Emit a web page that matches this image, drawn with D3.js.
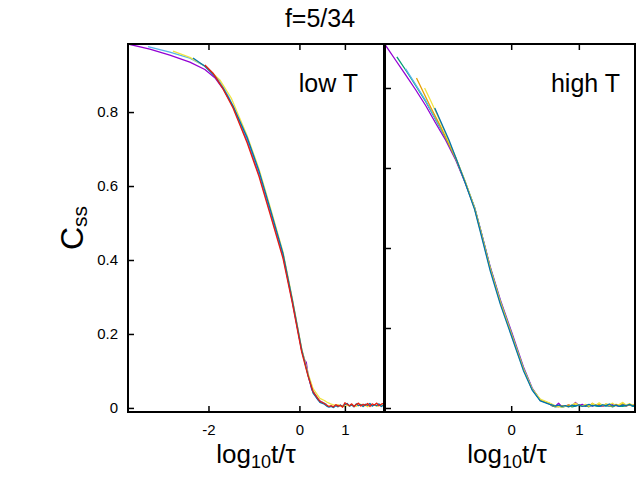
<!DOCTYPE html>
<html>
<head>
<meta charset="utf-8">
<script src="https://cdn.jsdelivr.net/npm/d3@7"></script>
<style>
  body { margin: 0; background: #fff; }
  svg { display: block; font-family: "Liberation Sans", Arial, sans-serif; }
</style>
</head>
<body>
<div id="chart"></div>
<script>
// tick values and labels
const leftXTicks = [-2, 0, 1];
const leftXLabels = ['-2', '0', '1'];
const rightXTicks = [0, 1];
const rightXLabels = ['0', '1'];
const yTicks = [0, 0.2, 0.4, 0.6, 0.8];
const yLabels = ['0', '0.2', '0.4', '0.6', '0.8'];

// gnuplot default palette
const colors = {
  purple: '#9400D3', green: '#009E73', sky: '#56B4E9', orange: '#E69F00',
  yellow: '#F0E442', blue: '#0072B2', red: '#E51E10'
};

// ---- low T panel: [log10 t/tau, Css]
const lowPurple = [[-3.77,0.984],[-3.29,0.970],[-2.85,0.954],[-2.41,0.935],[-2.08,0.915],[-1.86,0.893],[-1.68,0.863],[-1.46,0.815],[-1.15,0.722],[-0.89,0.632],[-0.65,0.532],[-0.36,0.410],[-0.16,0.290],[0.05,0.155],[0.12,0.128],[0.15,0.124],[0.19,0.090],[0.27,0.050],[0.41,0.022],[0.56,0.011]];
const lowSky = [[-3.33,0.977],[-2.85,0.962],[-2.41,0.946],[-2.04,0.922],[-1.75,0.884],[-1.55,0.840],[-1.15,0.727],[-0.89,0.638],[-0.65,0.538],[-0.36,0.415],[-0.16,0.294],[0.05,0.158],[0.19,0.090],[0.30,0.045],[0.45,0.018],[0.60,0.010]];
const lowYellow = [[-2.78,0.965],[-2.41,0.948],[-2.06,0.923],[-1.75,0.887],[-1.50,0.838],[-1.15,0.736],[-0.89,0.646],[-0.65,0.546],[-0.36,0.421],[-0.16,0.298],[0.05,0.160],[0.19,0.093],[0.30,0.052],[0.45,0.026]];
const lowBlue = [[-2.34,0.946],[-2.08,0.924],[-1.86,0.897],[-1.68,0.865],[-1.46,0.816],[-1.15,0.731],[-0.89,0.641],[-0.65,0.541],[-0.36,0.417],[-0.16,0.294],[0.05,0.157],[0.19,0.088],[0.30,0.040],[0.45,0.015]];
const lowRed = [[-2.08,0.927],[-1.90,0.905],[-1.70,0.867],[-1.46,0.811],[-1.15,0.717],[-0.89,0.626],[-0.65,0.526],[-0.36,0.404],[-0.16,0.286],[0.05,0.151],[0.19,0.086],[0.30,0.044],[0.45,0.018]];

// noisy plateau after decay
const lowTailX = [0.55,0.60,0.65,0.70,0.75,0.80,0.85,0.90,0.95,1.00,1.05,1.10,1.15,1.20,1.25,1.30,1.35,1.40,1.45,1.50,1.55,1.60,1.65,1.70,1.75,1.80,1.85];
const lowYellowTail = [0.020,0.016,0.013,0.010,0.008,0.006,0.009,0.004,0.007,0.003,0.008,0.005,0.009,0.006,0.004,0.008,0.010,0.005,0.007,0.003,0.009,0.006,0.008,0.004,0.007,0.009,0.005];
const lowBlueTail = [0.010,0.005,0.002,0.004,0.001,0.006,0.003,0.008,0.004,0.009,0.012,0.005,0.008,0.003,0.011,0.006,0.009,0.004,0.010,0.007,0.012,0.005,0.009,0.006,0.011,0.004,0.008];
const lowRedTail = [0.012,0.008,0.004,0.006,0.003,0.009,0.005,0.007,0.002,0.014,0.010,0.006,0.011,0.004,0.009,0.013,0.005,0.010,0.007,0.012,0.004,0.011,0.008,0.013,0.006,0.010,0.012];

// ---- high T panel
const highPurple = [[-1.87,0.910],[-1.71,0.870],[-1.56,0.833],[-1.41,0.795],[-1.26,0.755],[-1.12,0.713],[-0.97,0.670],[-0.82,0.620],[-0.68,0.563],[-0.54,0.500],[-0.44,0.438],[-0.31,0.353],[-0.16,0.270],[0.01,0.188],[0.18,0.103],[0.31,0.050],[0.43,0.020],[0.57,0.010]];
const highGreen = [[-1.69,0.878],[-1.56,0.845],[-1.41,0.806],[-1.26,0.765],[-1.12,0.722],[-0.97,0.676],[-0.82,0.624],[-0.68,0.565],[-0.54,0.500],[-0.44,0.436],[-0.31,0.350],[-0.16,0.266],[0.01,0.183],[0.18,0.099],[0.31,0.047],[0.43,0.019],[0.57,0.010]];
const highSky = [[-1.56,0.848],[-1.41,0.808],[-1.26,0.767],[-1.12,0.723],[-0.97,0.677],[-0.82,0.625],[-0.68,0.566],[-0.54,0.501],[-0.44,0.437],[-0.31,0.351],[-0.16,0.267],[0.01,0.184],[0.18,0.100],[0.31,0.048],[0.43,0.020],[0.60,0.010]];
const highOrange = [[-1.40,0.825],[-1.30,0.790],[-1.19,0.752],[-1.05,0.706],[-0.97,0.677],[-0.82,0.624],[-0.68,0.565],[-0.54,0.499],[-0.44,0.435],[-0.31,0.349],[-0.16,0.265],[0.01,0.182],[0.18,0.098],[0.31,0.047],[0.43,0.020],[0.57,0.011]];
const highYellow = [[-1.28,0.800],[-1.19,0.768],[-1.08,0.728],[-0.97,0.685],[-0.82,0.627],[-0.68,0.566],[-0.54,0.498],[-0.44,0.433],[-0.31,0.346],[-0.16,0.262],[0.01,0.179],[0.18,0.096],[0.31,0.047],[0.43,0.022],[0.57,0.012]];
const highBlue = [[-1.13,0.750],[-1.03,0.712],[-0.92,0.670],[-0.82,0.626],[-0.68,0.563],[-0.54,0.496],[-0.44,0.430],[-0.31,0.343],[-0.16,0.259],[0.01,0.177],[0.18,0.094],[0.31,0.045],[0.43,0.018],[0.57,0.009]];

const highTailX = [0.60,0.65,0.70,0.75,0.80,0.85,0.90,0.95,1.00,1.05,1.10,1.15,1.20,1.25,1.30,1.35,1.40,1.45,1.50,1.55,1.60,1.65,1.70,1.75,1.80,1.85];
const highPurpleTail = [0.006,0.004,0.012,0.003,0.005,0.007,0.004,0.014,0.006,0.009,0.004,0.007,0.005,0.008,0.006,0.004,0.007,0.005,0.009,0.006,0.004,0.007,0.005,0.008,0.006,0.005];
const highGreenTail = [0.006,0.003,0.005,0.002,0.004,0.006,0.003,0.005,0.007,0.004,0.006,0.003,0.008,0.005,0.004,0.007,0.005,0.006,0.003,0.007,0.005,0.004,0.006,0.008,0.004,0.006];
const highOrangeTail = [0.007,0.004,0.003,0.006,0.004,0.008,0.005,0.011,0.007,0.005,0.008,0.004,0.012,0.006,0.009,0.005,0.010,0.007,0.004,0.009,0.006,0.011,0.005,0.008,0.007,0.010];
const highYellowTail = [0.010,0.006,0.004,0.002,0.005,0.003,0.008,0.012,0.006,0.004,0.009,0.005,0.011,0.007,0.013,0.006,0.010,0.008,0.012,0.005,0.009,0.014,0.007,0.011,0.006,0.009];
const highBlueTail = [0.008,0.005,0.007,0.004,0.006,0.003,0.007,0.005,0.008,0.004,0.006,0.009,0.005,0.007,0.004,0.008,0.006,0.010,0.005,0.007,0.004,0.008,0.006,0.009,0.005,0.007];

//Attach a tail of y values to a curve
function withTail(body, tailX, tail) {
  if (!tail) return body;
  return body.concat(tailX.map((x, i) => [x, tail[i]]));
}

const panels = [
  {
    name: 'low T', x0: 128, x1: 384, xDomain: [-3.77, 1.86], yDomain: [-0.011, 0.984],
    xTicks: leftXTicks, xLabels: leftXLabels, yLabelsShown: true, labelX: 358,
    series: [
      { c: colors.purple, d: lowPurple },
      { c: colors.sky, d: lowSky },
      { c: colors.yellow, d: withTail(lowYellow, lowTailX, lowYellowTail) },
      { c: colors.blue, d: withTail(lowBlue, lowTailX, lowBlueTail) },
      { c: colors.red, d: withTail(lowRed, lowTailX, lowRedTail) }
    ]
  },
  {
    name: 'high T', x0: 385, x1: 635, xDomain: [-1.88, 1.83], yDomain: [-0.01, 0.91],
    xTicks: rightXTicks, xLabels: rightXLabels, yLabelsShown: false, labelX: 620,
    series: [
      { c: colors.purple, d: withTail(highPurple, highTailX, highPurpleTail) },
      { c: colors.green, d: withTail(highGreen, highTailX, highGreenTail) },
      { c: colors.sky, d: highSky },
      { c: colors.orange, d: withTail(highOrange, highTailX, highOrangeTail) },
      { c: colors.yellow, d: withTail(highYellow, highTailX, highYellowTail) },
      { c: colors.blue, d: withTail(highBlue, highTailX, highBlueTail) }
    ]
  }
];

const width = 640, height = 480;
const plotTop = 44, plotBottom = 412;

const svg = d3.select('#chart').append('svg')
  .attr('width', width)
  .attr('height', height);

svg.append('text')
  .attr('x', 320)
  .attr('y', 27)
  .attr('text-anchor', 'middle')
  .style('font-size', '25px')
  .text('f=5/34');

panels.forEach((p, pi) => {
  const x = d3.scaleLinear().domain(p.xDomain).range([p.x0 - (pi ? 1 : 0), p.x1]);
  const y = d3.scaleLinear().domain(p.yDomain).range([plotBottom, plotTop]);

  const clipId = 'clip' + pi;
  svg.append('clipPath').attr('id', clipId)
    .append('rect')
    .attr('x', p.x0).attr('y', plotTop)
    .attr('width', p.x1 - p.x0).attr('height', plotBottom - plotTop);

  const line = d3.line()
    .x(d => x(d[0]))
    .y(d => y(d[1]));

  const g = svg.append('g').attr('clip-path', 'url(#' + clipId + ')');
  g.selectAll('path')
    .data(p.series)
    .enter()
    .append('path')
    .attr('fill', 'none')
    .attr('stroke', d => d.c)
    .attr('stroke-width', 1.3)
    .attr('stroke-linejoin', 'round')
    .attr('d', d => line(d.d));

  //Axes with inward ticks
  const yAxis = svg.append('g')
    .attr('transform', 'translate(' + p.x0 + ',0)')
    .call(d3.axisLeft(y).tickValues(yTicks).tickSize(-6).tickPadding(10)
      .tickFormat((d, i) => p.yLabelsShown ? yLabels[i] : ''));

  const xAxis = svg.append('g')
    .attr('transform', 'translate(0,' + plotBottom + ')')
    .call(d3.axisBottom(x).tickValues(p.xTicks).tickSize(-6).tickPadding(12)
      .tickFormat((d, i) => p.xLabels[i]));

  const xTop = svg.append('g')
    .attr('transform', 'translate(0,' + plotTop + ')')
    .call(d3.axisTop(x).tickValues(p.xTicks).tickSize(-6).tickFormat(''));

  [yAxis, xAxis, xTop].forEach(a => {
    a.select('.domain').remove();
    a.selectAll('line').attr('stroke', '#000').attr('stroke-width', 1.5);
    a.selectAll('text')
      .attr('fill', '#000')
      .style('font-family', '"Liberation Sans", Arial, sans-serif')
      .style('font-size', '15px');
  });

  svg.append('rect')
    .attr('x', p.x0).attr('y', plotTop)
    .attr('width', p.x1 - p.x0).attr('height', plotBottom - plotTop)
    .attr('fill', 'none')
    .attr('stroke', '#000')
    .attr('stroke-width', 2);

  svg.append('text')
    .attr('x', p.labelX)
    .attr('y', 92)
    .attr('text-anchor', 'end')
    .style('font-size', '25px')
    .text(p.name);

  //x label with subscript
  const xl = svg.append('text')
    .attr('x', (p.x0 + p.x1) / 2 + (pi ? -3 : 0))
    .attr('y', 463)
    .attr('text-anchor', 'middle')
    .style('font-size', '26px');
  xl.append('tspan').text('log');
  xl.append('tspan').attr('dy', 5).style('font-size', '18px').text('10');
  xl.append('tspan').attr('dy', -5).text('t/τ');
});

//y label C_ss
const yl = svg.append('text')
  .attr('transform', 'translate(83,228) rotate(-90)')
  .attr('text-anchor', 'middle')
  .style('font-size', '32px');
yl.append('tspan').text('C');
yl.append('tspan').attr('dy', 4).style('font-size', '21px').text('ss');
</script>
</body>
</html>
